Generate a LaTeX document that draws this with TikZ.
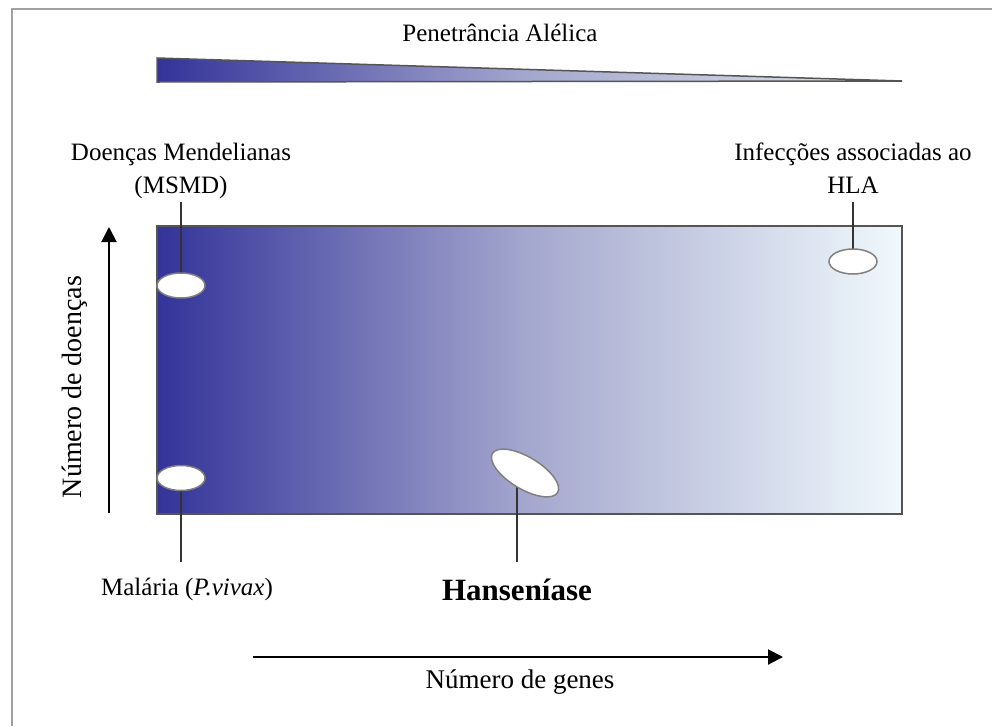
\documentclass[tikz,border=0pt]{standalone}
\usepackage{fontspec}
\setmainfont{Liberation Serif}
\usetikzlibrary{arrows.meta,shapes.geometric}
\definecolor{penblue}{RGB}{51,51,153}
\definecolor{penmid}{RGB}{165,168,206}
\definecolor{penlight}{RGB}{240,249,252}
\definecolor{framegray}{RGB}{160,160,160}
\definecolor{edgegray}{RGB}{85,85,85}

\begin{document}
\begin{tikzpicture}[x=1pt,y=-1pt,
		ell/.style={ellipse,draw=gray,fill=white,line width=1.5pt,minimum width=48pt,minimum height=25pt,inner sep=0pt},
		conn/.style={draw=black!80,line width=1.5pt},
		axis/.style={line width=2pt,-{Triangle[length=15pt,width=15pt]}},
		lbl/.style={font=\fontsize{25}{33}\selectfont,inner sep=0pt,align=center}]
				\useasboundingbox (0,0) rectangle (992,726);
				\draw[framegray,line width=2pt] (11.5,726) -- (11.5,8.5) -- (992,8.5);
				\node[lbl] (penet) at (500,33) {Penetrância Alélica};
				\shade[left color=penblue,right color=penlight!85!gray,middle color=penmid] (157,58) -- (902,81) -- (157,82) -- cycle;
				\draw[edgegray,line width=1.5pt] (157,58) -- (902,81) -- (157,82) -- cycle;
				\shade[left color=penblue,right color=penlight,middle color=penmid] (157,226) rectangle (902,514);
				\draw[edgegray,line width=1.5pt] (157,226) rectangle (902,514);
				\coordinate (yfrom) at (109,513);
				\coordinate (yto) at (109,227);
				\draw[axis] (yfrom) -- (yto);
				\node[lbl,rotate=90,font=\fontsize{28}{33}\selectfont] (ndoen) at (75,387) {Número de doenças};
				\coordinate (xfrom) at (253,657);
				\coordinate (xto) at (783,657);
				\draw[axis] (xfrom) -- (xto);
				\node[lbl,font=\fontsize{27}{33}\selectfont] (ngenes) at (520,682) {Número de genes};
				\node[lbl,anchor=south,text depth=8pt] (mendel) at (181,202) {Doenças Mendelianas\\(MSMD)};
				\node[lbl,anchor=south,text depth=8pt] (hlalbl) at (853,202) {Infecções associadas ao\\HLA};
				\node[lbl,anchor=north,text height=33pt] (malaria) at (187,562) {Malária (\textit{P.vivax})};
				\node[lbl,anchor=north,text height=38pt,font=\fontsize{31}{36}\selectfont\bfseries] (hansen) at (517,562) {Hanseníase};
				\coordinate (msmd-c) at (181,285.5);
				\coordinate (hla-c) at (853,261.5);
				\coordinate (mal-c) at (181,478);
				\coordinate (hans-c) at (525,473);
				\draw[conn] (mendel.south) -- (msmd-c);
				\draw[conn] (hlalbl.south) -- (hla-c);
				\draw[conn] (mal-c) -- (mal-c |- malaria.north);
				\draw[conn] (hansen.north) -- (hansen.north |- hans-c);
				\foreach \e in {msmd,hla,mal}
				\node[ell] (\e) at (\e-c) {};
				\node[ell,minimum width=76pt,minimum height=32pt,rotate=-31] (hans) at (hans-c) {};
\end{tikzpicture}
\end{document}
